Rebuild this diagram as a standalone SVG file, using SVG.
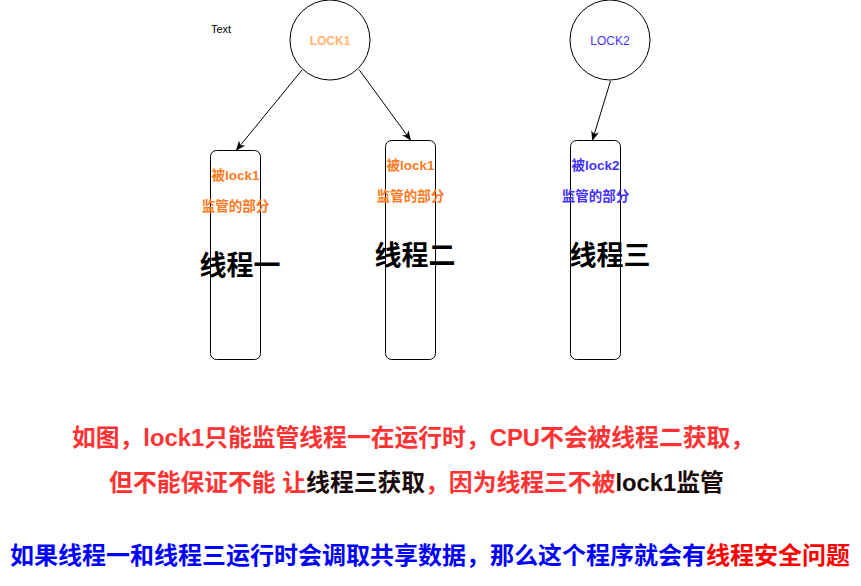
<svg xmlns="http://www.w3.org/2000/svg" width="861" height="586" viewBox="0 0 861 586">
<style>
.shape{fill:#fff;stroke:#000;stroke-width:1}
.edge{fill:none;stroke:#000;stroke-width:1}
.t{font-family:"Liberation Sans","Noto Sans CJK SC",sans-serif;text-anchor:middle;dominant-baseline:central}
.lbl{font-size:13.5px;font-weight:bold}
.big{font-size:27px;font-weight:bold;fill:#000}
.orange{fill:#FF7A22}
.blue{fill:#4433FF}
.note{font-size:23.8px;font-weight:bold}
.red{fill:#FF3333}
.dark{fill:#1A0A0A}
</style>
<defs>
<marker id="arr" viewBox="0 0 10 10" refX="9" refY="5" markerWidth="10" markerHeight="10" markerUnits="userSpaceOnUse" orient="auto">
<path d="M0,1 L10,5 L0,9 L3,5 Z" fill="#000"/>
</marker>
</defs>
<rect width="861" height="586" fill="#fff"/>
<g id="text-label"><text class="t" x="221" y="29" font-size="11" fill="#000">Text</text></g>
<g id="lock1">
<circle class="shape" cx="330" cy="40" r="40"/>
<text class="t" x="330" y="41" font-size="12" font-weight="bold" fill="#FFB570">LOCK1</text>
</g>
<g id="lock2">
<circle class="shape" cx="610" cy="40" r="40"/>
<text class="t" x="610" y="41" font-size="12" fill="#4433FF">LOCK2</text>
</g>
<g id="thread1">
<rect class="shape" x="210.5" y="150.5" width="50" height="209" rx="6"/>
<text class="t lbl orange" x="235.5" y="175">被lock1</text>
<text class="t lbl orange" x="235.5" y="206">监管的部分</text>
<text class="t big" x="240" y="266">线程一</text>
</g>
<g id="thread2">
<rect class="shape" x="385.5" y="140.5" width="50" height="219" rx="6"/>
<text class="t lbl orange" x="410.5" y="165">被lock1</text>
<text class="t lbl orange" x="410.5" y="196">监管的部分</text>
<text class="t big" x="415" y="256">线程二</text>
</g>
<g id="thread3">
<rect class="shape" x="570.5" y="140.5" width="50" height="219" rx="6"/>
<text class="t lbl blue" x="595.5" y="165">被lock2</text>
<text class="t lbl blue" x="595.5" y="196">监管的部分</text>
<text class="t big" x="610" y="256">线程三</text>
</g>
<g id="connectors">
<line class="edge" x1="302" y1="70" x2="236.5" y2="150" marker-end="url(#arr)"/>
<line class="edge" x1="359" y1="69.5" x2="410.5" y2="140" marker-end="url(#arr)"/>
<line class="edge" x1="610.5" y1="81" x2="592.5" y2="140" marker-end="url(#arr)"/>
</g>
<g id="notes">
<text class="t note" x="413" y="437"><tspan class="red">如图，lock1只能监管线程一在运行时，CPU不会被线程二获取，</tspan></text>
<text class="t note" x="416.5" y="482"><tspan class="red">但不能保证不能 让</tspan><tspan class="dark">线程三获取</tspan><tspan class="red">，因为线程三不被</tspan><tspan class="dark">lock1监管</tspan></text>
<text class="t" x="430" y="555" font-size="24" font-weight="bold"><tspan fill="#0000FF">如果线程一和线程三运行时会调取共享数据，那么这个程序就会有</tspan><tspan fill="#FF0000">线程安全问题</tspan></text>
</g>
</svg>
